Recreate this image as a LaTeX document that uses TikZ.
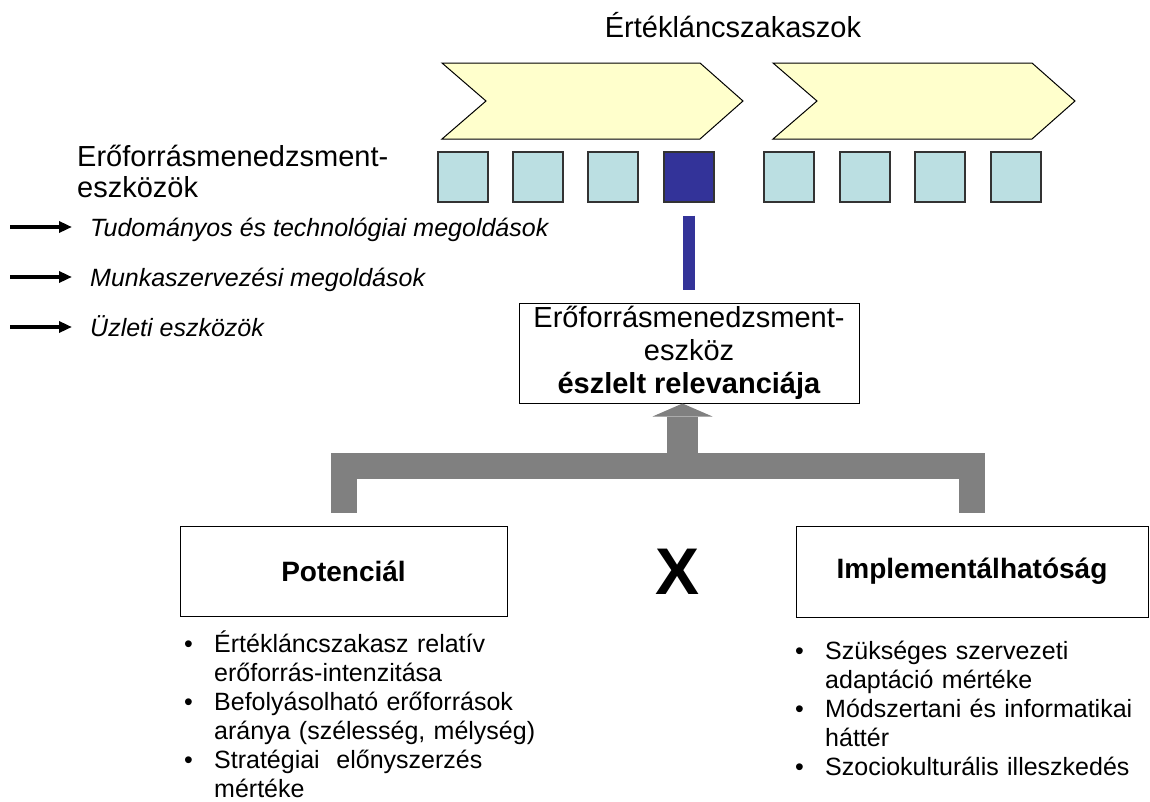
\documentclass[tikz,border=0pt]{standalone}
\usepackage{fontspec}
\setmainfont{Liberation Sans}
\usetikzlibrary{arrows.meta,calc}

\definecolor{chevronfill}{HTML}{FFFFCC}
\definecolor{toolfill}{HTML}{BBDFE2}
\definecolor{tooldark}{HTML}{333399}
\definecolor{linkgray}{HTML}{808080}

\newcommand{\bulletpt}{\noindent\llap{\makebox[30pt][l]{\textbullet}}}

\tikzset{
  chevron/.style={fill=chevronfill,draw=black,line width=1pt,line join=miter},
  toolbox/.style={draw=black!80,line width=1.3pt,fill=toolfill,minimum size=50pt,inner sep=0pt},
  framebox/.style={draw=black,line width=1pt,inner sep=0pt},
  bigtext/.style={font=\fontsize{29}{31}\selectfont},
  boxlabel/.style={font=\bfseries\fontsize{28}{32}\selectfont},
  bullets/.style={font=\fontsize{25}{29}\selectfont,text width=400pt,align=left,anchor=base west,inner sep=0pt},
  listarrow/.style={line width=3.5pt,-{Triangle[length=13pt,width=11pt]}},
  bluebar/.style={line width=12pt,draw=tooldark},
  bracket/.style={line width=26pt,draw=linkgray,line join=miter},
  grayarrow/.style={line width=31pt,draw=linkgray,-{Triangle[length=13pt,width=60pt,line width=0pt]}}
}

\begin{document}
\begin{tikzpicture}[x=1pt,y=-1pt]
        \useasboundingbox (0,0) rectangle (1150,801);

        % value chain stages
        \foreach \l/\r in {442/700,773/1032}
          \draw[chevron] (\l,63) -- (\r,63) -- (\r+43,101) -- (\r,139) -- (\l,139) -- (\l+44,101) -- cycle;

        \node[bigtext,anchor=base,inner sep=0pt] (title) at (733,37) {Értékláncszakaszok};

        % tools
        \foreach \i/\x/\c in {1/438/toolfill,2/513/toolfill,3/588/toolfill,4/664/tooldark,
                              5/764/toolfill,6/840/toolfill,7/915/toolfill,8/991/toolfill}
          \node[toolbox,fill=\c] (s\i) at (\x+25,177) {};

        \node[bigtext,align=left,anchor=base west,inner sep=0pt] (head) at (77,197)
          {Erőforrásmenedzsment-\\eszközök};

        \begin{scope}[every node/.style={anchor=base west,inner sep=0pt,font=\itshape\fontsize{25}{28}\selectfont}]
          \node (t1) at (90,236) {Tudományos és technológiai megoldások};
          \node (t2) at (90,286) {Munkaszervezési megoldások};
          \node (t3) at (90,336) {Üzleti eszközök};
        \end{scope}

        \coordinate (a1) at (10,227);
        \coordinate (a2) at (10,277);
        \coordinate (a3) at (10,327);
        \foreach \i in {1,2,3}
          \draw[listarrow] (a\i) -- ($(a\i -| t\i.west)+(-18,0)$);

        % relevance
        \node[framebox,minimum width=340pt,minimum height=100pt,align=center,
              font=\fontsize{29}{33}\selectfont] (rel) at (689,353)
          {Erőforrásmenedzsment-\\eszköz\\\textbf{észlelt relevanciája}};

        \draw[bluebar] ($(s4.south)+(0,13)$) -- ($(rel.north)+(0,-13)$);

        \node[framebox,boxlabel,minimum width=327pt,minimum height=90pt] (pot) at (343.5,571) {Potenciál};
        \node[framebox,boxlabel,minimum width=352pt,minimum height=91pt] (imp) at (972,571.5) {Implementálhatóság};
        \node[font=\bfseries\fontsize{66}{70}\selectfont,inner sep=0pt] (times) at (677,572) {X};

        \coordinate (bar) at (682.5,466);
        \draw[bracket] ($(pot.north)+(0,-13)$) |- (bar) -| ($(imp.north)+(0,-13)$);
        \draw[grayarrow] (bar) -- (bar |- rel.south);

        % criteria
        \node[bullets] (potlist) at (184,652) {\leftskip=30pt
          \bulletpt Értékláncszakasz relatív\\erőforrás-intenzitása\par
          \bulletpt Befolyásolható erőforrások\\aránya (szélesség, mélység)\par
          \bulletpt Stratégiai\ \ előnyszerzés\\mértéke\par};
        \node[bullets] (implist) at (795,659) {\leftskip=30pt
          \bulletpt Szükséges szervezeti\\adaptáció mértéke\par
          \bulletpt Módszertani és informatikai\\háttér\par
          \bulletpt Szociokulturális illeszkedés\par};

      \end{tikzpicture}
\end{document}
